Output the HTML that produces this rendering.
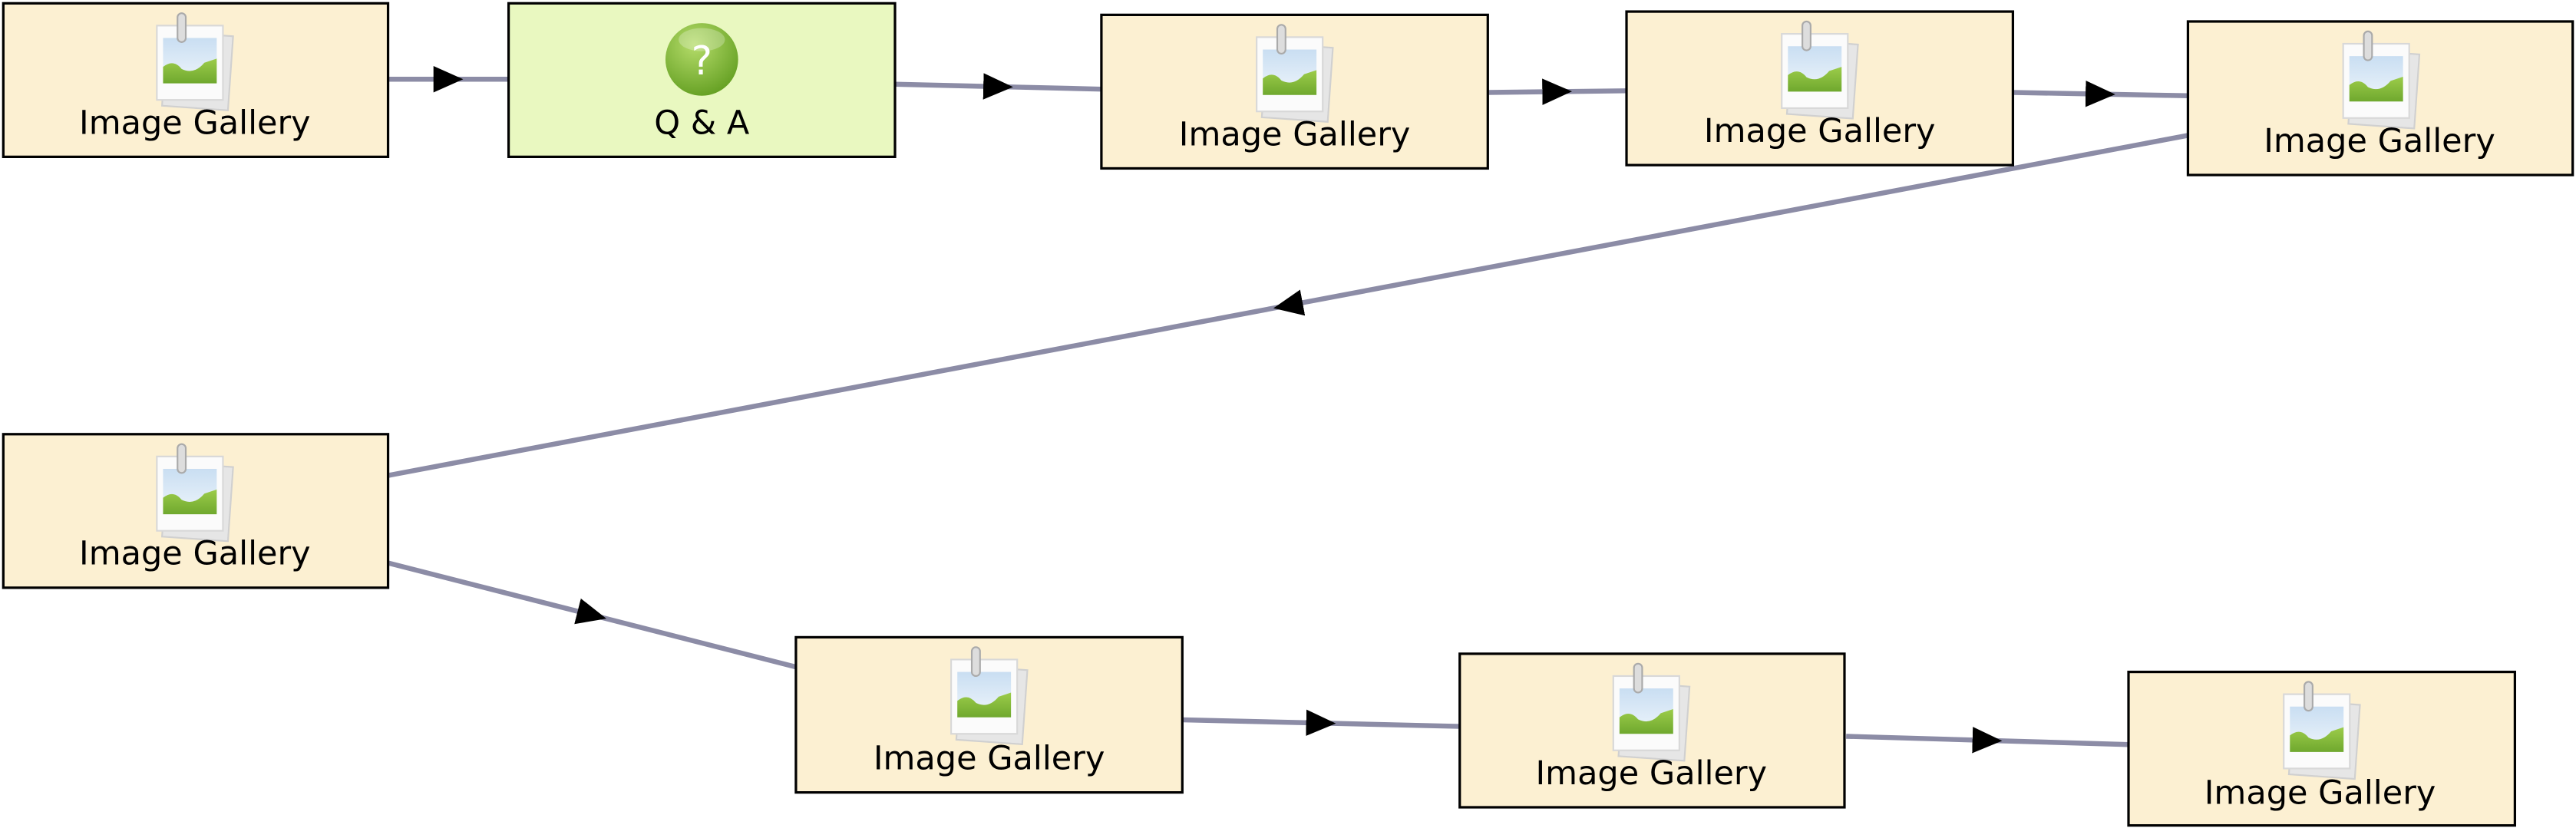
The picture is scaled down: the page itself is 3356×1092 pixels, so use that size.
<!DOCTYPE html>
<html><head><meta charset="utf-8"><style>
html,body{margin:0;padding:0;background:#fff;width:3356px;height:1092px;overflow:hidden}
svg{display:block}
text{font-family:"DejaVu Sans","Liberation Sans",sans-serif;font-size:20px;fill:#000}
</style></head><body>
<svg width="3356" height="1092" viewBox="0 0 1560 507.6" xmlns="http://www.w3.org/2000/svg">
<defs>
<marker id="ar" markerUnits="userSpaceOnUse" markerWidth="20" markerHeight="18" refX="9" refY="8" orient="auto">
<path d="M0,0 L18,8 L0,16 z" fill="#000"/>
</marker>
<linearGradient id="sky" x1="0" y1="0" x2="0" y2="1"><stop offset="0" stop-color="#c9def2"/><stop offset="1" stop-color="#eef5fb"/></linearGradient>
<linearGradient id="hill" x1="0" y1="0" x2="0" y2="1"><stop offset="0" stop-color="#9ccc4a"/><stop offset="1" stop-color="#6fa82e"/></linearGradient>
<radialGradient id="qa" cx="0.4" cy="0.3" r="0.8"><stop offset="0" stop-color="#b5dc6a"/><stop offset="1" stop-color="#5d9a1c"/></radialGradient>
<g id="icon" transform="scale(1.25)">
<rect x="-16" y="-14" width="32" height="36" fill="#e6e6e6" stroke="#d0d0d0" stroke-width="0.8" transform="rotate(4)"/>
<rect x="-20" y="-18" width="32" height="36" fill="#fbfbfb" stroke="#d8d8d8" stroke-width="0.8"/>
<rect x="-17" y="-12" width="26" height="22" fill="url(#sky)"/>
<path d="M-17,2 Q-12,-2 -8,3 Q-2,6 3,0 L9,-2 L9,10 L-17,10 z" fill="url(#hill)"/>
<rect x="-10" y="-24" width="4" height="14" rx="2" fill="#ddd" stroke="#aaa" stroke-width="0.8"/>
</g>
</defs>
<g stroke="#8c8ca6" stroke-width="3" fill="none" marker-mid="url(#ar)">
<path d="M235,48 L271.5,48 L308,48"/>
<path d="M542,51 L604.5,52.5 L667,54"/>
<path d="M901,56 L943,55.5 L985,55"/>
<path d="M1219,56 L1272,57 L1325,58"/>
<path d="M1325,82 L780,185 L235,288"/>
<path d="M235,341 L358.5,372.5 L482,404"/>
<path d="M716,436 L800,438 L884,440"/>
<path d="M1118,446 L1203.5,448.5 L1289,451"/>
</g>
<g stroke="#000" stroke-width="1.5">
<rect x="2" y="2" width="233" height="93" fill="#fcf0d2"/>
<rect x="308" y="2" width="234" height="93" fill="#e9f8c0"/>
<rect x="667" y="9" width="234" height="93" fill="#fcf0d2"/>
<rect x="985" y="7" width="234" height="93" fill="#fcf0d2"/>
<rect x="1325" y="13" width="233" height="93" fill="#fcf0d2"/>
<rect x="2" y="263" width="233" height="93" fill="#fcf0d2"/>
<rect x="482" y="386" width="234" height="94" fill="#fcf0d2"/>
<rect x="884" y="396" width="233" height="93" fill="#fcf0d2"/>
<rect x="1289" y="407" width="234" height="93" fill="#fcf0d2"/>
</g>
<use href="#icon" x="120" y="38"/>
<use href="#icon" x="786" y="45"/>
<use href="#icon" x="1104" y="43"/>
<use href="#icon" x="1444" y="49"/>
<use href="#icon" x="120" y="299"/>
<use href="#icon" x="601" y="422"/>
<use href="#icon" x="1002" y="432"/>
<use href="#icon" x="1408" y="443"/>
<circle cx="425" cy="36" r="22" fill="url(#qa)"/>
<ellipse cx="425" cy="24" rx="14" ry="7" fill="#fff" opacity="0.25"/>
<text x="425" y="45" text-anchor="middle" style="fill:#fff;font-size:24px">?</text>
<g text-anchor="middle">
<text x="118" y="81">Image Gallery</text>
<text x="425" y="81">Q &amp; A</text>
<text x="784" y="88">Image Gallery</text>
<text x="1102" y="86">Image Gallery</text>
<text x="1441" y="92">Image Gallery</text>
<text x="118" y="342">Image Gallery</text>
<text x="599" y="466">Image Gallery</text>
<text x="1000" y="475">Image Gallery</text>
<text x="1405" y="487">Image Gallery</text>
</g>
</svg>
</body></html>
